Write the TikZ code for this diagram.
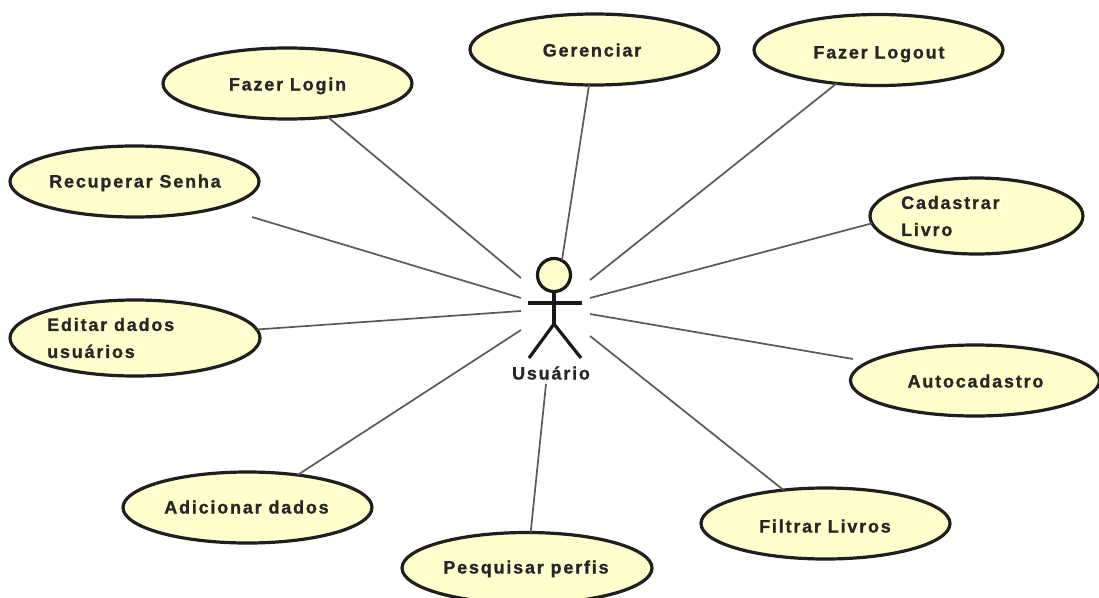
\documentclass[tikz,border=0pt]{standalone}
\usepackage{fontspec}
\setmainfont[LetterSpace=10,BoldFeatures={FakeBold=1}]{Liberation Sans}
\definecolor{ucfill}{HTML}{FFFFCD}
\usetikzlibrary{shapes.geometric}
\tikzset{
  usecase/.style={ellipse,draw=black!88,line width=3.2pt,fill=ucfill,inner sep=0pt,outer sep=0pt,minimum width=249pt,minimum height=71pt},
  uctext/.style={font=\fontsize{18}{27}\selectfont\bfseries,text=black!85,inner sep=0pt},
  oneline/.style={uctext,text height=13pt,text depth=4pt},
  link/.style={draw=black!65,line width=1.7pt},
  stick/.style={draw=black!90,line width=3.2pt},
}
\begin{document}
\begin{tikzpicture}[x=1pt,y=-1pt]
\useasboundingbox (0,0) rectangle (1099,597);
% use cases
\node[usecase] (ger) at (594.5,49.5) {};
\node[usecase] (log) at (878.5,50) {};
\node[usecase] (lin) at (287.5,83.5) {};
\node[usecase] (rec) at (134.5,181.5) {};
\node[usecase,minimum width=213pt,minimum height=76pt] (cad) at (976.5,216) {};
\node[usecase,minimum width=250pt,minimum height=76pt] (edi) at (135,338) {};
\node[usecase] (aut) at (975,380.5) {};
\node[usecase] (adi) at (247.5,507.5) {};
\node[usecase,minimum width=250pt] (pes) at (527,568) {};
\node[usecase] (fil) at (825.5,523.5) {};
% texts
\node[oneline] (tger) at (592,52) {Gerenciar};
\node[oneline] (tlog) at (879,54) {Fazer Logout};
\node[oneline] (tlin) at (287.5,86) {Fazer Login};
\node[oneline] (trec) at (135,183) {Recuperar Senha};
\node[uctext,align=left,anchor=west] (tcad) at (901,216) {Cadastrar\\Livro};
\node[uctext,align=left,anchor=west] (tedi) at (47,338) {Editar dados\\usuários};
\node[oneline] (taut) at (975.5,383) {Autocadastro};
\node[oneline] (tadi) at (246.5,509) {Adicionar dados};
\node[oneline] (tpes) at (526,569) {Pesquisar perfis};
\node[oneline] (tfil) at (825,528) {Filtrar Livros};
% actor
\node[circle,draw=black!90,line width=3.2pt,fill=ucfill,minimum size=33pt,inner sep=0pt,outer sep=0pt] (head) at (554,275) {};
\coordinate (armL) at (528,303);
\coordinate (armR) at (582,303);
\coordinate (hip) at (554,324);
\coordinate (footL) at (529,358);
\coordinate (footR) at (581,358);
\draw[stick] (head.south) -- (hip);
\draw[stick] (armL) -- (armR);
\draw[stick] (footL) -- (hip) -- (footR);
\node[oneline] (actor) at (551,375) {Usuário};
% connector free ends
\coordinate (eger) at (562,260);
\coordinate (elog) at (590,280);
\coordinate (ecad) at (590,298);
\coordinate (eaut) at (590,314);
\coordinate (efil) at (590,336);
\coordinate (epes) at (546,384);
\coordinate (eadi) at (521,330);
\coordinate (eedi) at (521,311);
\coordinate (erec) at (521,298);
\coordinate (elin) at (521,278);
\coordinate (srec) at (252,217);
\coordinate (saut) at (853,359);
\foreach \u/\v in {ger/eger,log/elog,cad.184/ecad,saut/eaut,fil/efil,pes/epes,adi/eadi,edi/eedi,srec/erec,lin/elin}
  \draw[link] (\u) -- (\v);
\end{tikzpicture}
\end{document}
